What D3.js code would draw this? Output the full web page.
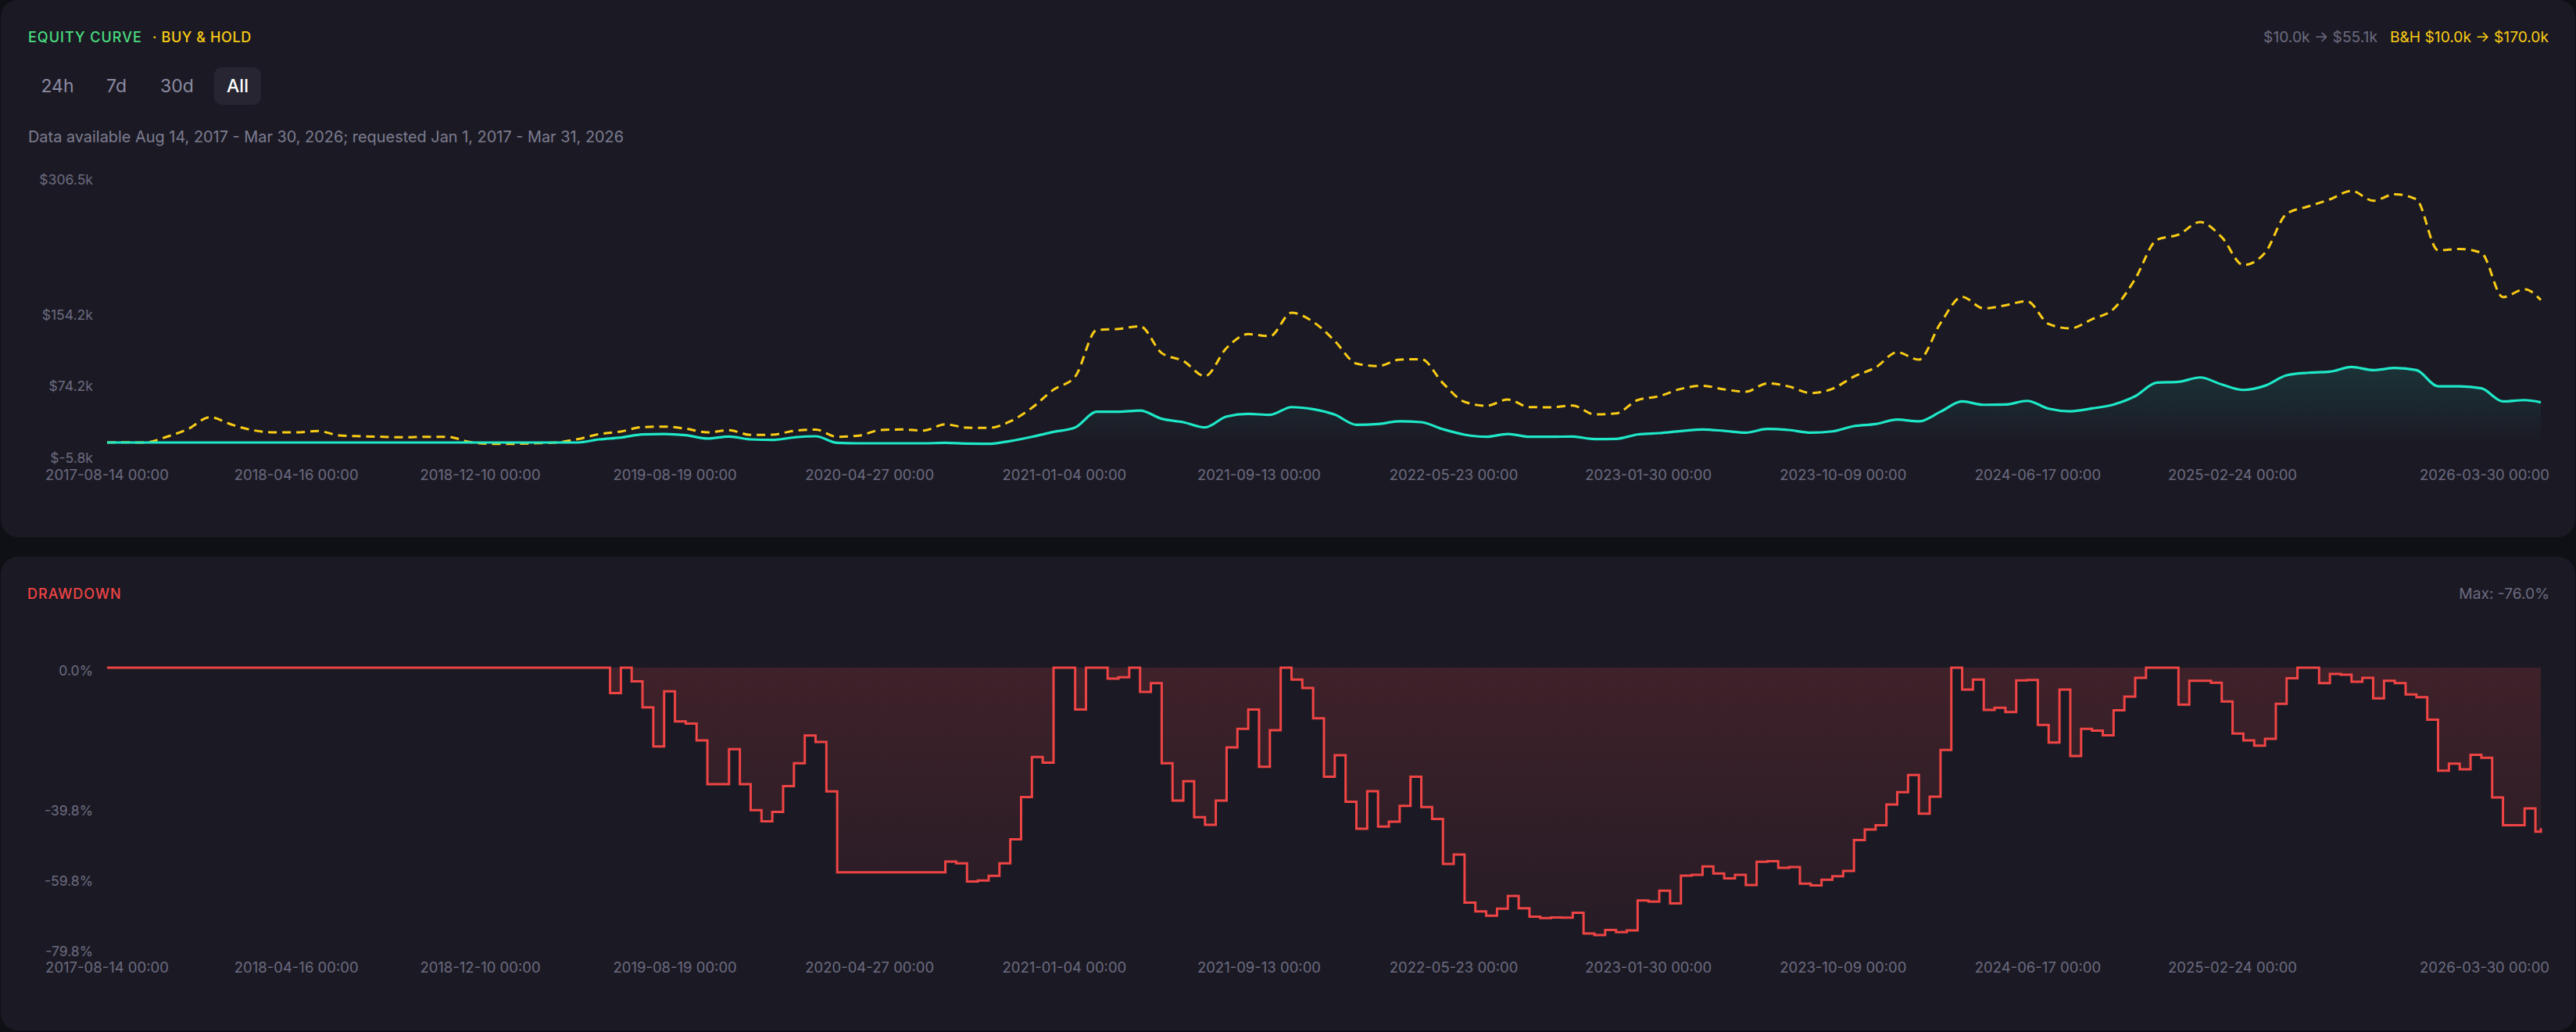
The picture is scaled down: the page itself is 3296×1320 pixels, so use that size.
<!DOCTYPE html>
<html><head><meta charset="utf-8">
<script src="https://cdn.jsdelivr.net/npm/d3@7"></script>
<style>
html,body{margin:0;padding:0;background:#0f0f16;}
svg{display:block;font-family:Inter,"Noto Sans",sans-serif;}
</style></head><body>
<svg id="c" width="3296" height="1320"></svg>
<script>
// ---------- data ----------
const xTickDates = ["2017-08-14","2018-04-16","2018-12-10","2019-08-19","2020-04-27","2021-01-04","2021-09-13","2022-05-23","2023-01-30","2023-10-09","2024-06-17","2025-02-24","2026-03-30"];
const equityTicks = [-5.8, 74.2, 154.2, 306.5];
const drawdownTicks = [0, -39.8, -59.8, -79.8];
const firstDate = "2017-08-14";
const gridStart = "2017-08-21";   // bars every 14 days after the first one
const lastDate = "2026-03-30";
const timeframes = ["24h","7d","30d","All"];

// drawdown %, one value per bar
const drawdown = [
 0,0,0,0,0,0,0,0,0,0,
 0,0,0,0,0,0,0,0,0,0,
 0,0,0,0,0,0,0,0,0,0,
 0,0,0,0,0,0,0,0,0,0,
 0,0,0,0,0,0,0,-7.2,0,-3.9,
 -11.3,-22.4,-6.7,-15.3,-15.9,-20.7,-33.1,-33.1,-23.2,-33.1,
 -40.5,-43.7,-41.0,-33.7,-27.2,-19.3,-21.1,-35.2,-58.2,-58.2,
 -58.2,-58.2,-58.2,-58.2,-58.2,-58.2,-58.2,-58.2,-55.1,-55.6,
 -60.8,-60.5,-59.2,-55.6,-48.8,-36.8,-25.4,-27.0,0,0,
 -11.9,0,0,-3.1,-2.7,0,-6.9,-4.4,-27.2,-37.8,
 -32.3,-42.5,-44.7,-37.8,-22.7,-17.4,-11.9,-28.2,-17.8,0,
 -3.4,-5.8,-14.4,-31.0,-24.9,-38.1,-45.8,-35.1,-45.2,-43.8,
 -39.3,-31.0,-39.6,-43.0,-55.8,-53.1,-66.8,-69.3,-70.5,-68.5,
 -64.9,-68.4,-70.8,-71.2,-71.0,-71.1,-69.7,-75.6,-76.0,-74.6,
 -75.2,-74.7,-66.2,-66.5,-63.4,-67.0,-59.1,-58.9,-56.5,-58.5,
 -59.9,-58.9,-61.8,-55.2,-55.0,-56.9,-56.7,-61.4,-61.9,-60.3,
 -59.3,-57.8,-49.0,-46.0,-44.8,-38.9,-35.4,-30.5,-41.5,-36.7,
 -23.4,0,-6.2,-3.4,-12.0,-11.4,-12.6,-3.6,-3.5,-16.3,
 -21.3,-6.2,-25.1,-17.4,-17.9,-19.2,-12.1,-8.2,-2.9,0,
 0,0,-10.5,-3.7,-3.7,-4.3,-9.6,-18.7,-20.7,-22.2,
 -20.2,-10.3,-3.0,0,0,-4.4,-1.8,-2.0,-4.0,-2.9,
 -8.7,-3.7,-4.4,-7.6,-8.4,-14.8,-29.3,-27.3,-28.9,-24.8,
 -25.6,-36.9,-44.8,-44.8,-40.0,-46.6,-45.6
];

// equity curve ($k), every second bar
const equity = [
 10.0,10.0,10.0,10.0,10.0,10.0,10.0,10.0,10.0,10.0,
 10.0,10.0,10.0,10.0,10.0,10.0,10.0,10.0,10.0,10.0,
 10.0,10.0,10.0,13.5,15.6,19.1,19.6,18.2,14.4,16.7,
 13.5,12.9,15.7,17.0,9.6,9.1,9.1,9.1,9.1,9.6,
 8.7,8.5,11.7,16.4,21.9,26.9,44.5,44.5,45.9,36.6,
 32.8,26.9,39.2,42.1,41.0,49.7,47.4,41.3,29.9,30.7,
 33.8,32.8,24.9,18.8,16.4,19.6,16.4,16.4,16.7,13.8,
 14.1,19.0,20.5,22.8,24.6,23.1,21.1,25.2,24.0,21.1,
 22.5,28.4,30.7,35.7,33.7,44.5,56.1,52.3,52.6,56.7,
 47.9,45.0,48.2,52.6,62.0,77.2,78.1,83.0,75.1,69.0,
 73.7,85.4,88.3,89.5,94.7,91.2,93.6,91.2,73.1,73.1,
 70.8,56.1,57.6,55.1
];

// buy & hold ($k), every second bar
const buyHold = [
 10.0,10.2,10.0,16.4,25.2,38.4,30.2,23.7,21.4,21.4,
 22.9,17.9,17.0,16.4,15.8,16.4,16.4,10.6,8.5,8.5,
 9.1,10.0,13.8,19.4,22.3,27.3,27.8,25.5,21.4,23.7,
 18.5,18.8,23.0,24.5,16.4,17.7,24.0,24.6,23.4,30.4,
 26.6,26.4,33.7,48.9,69.3,84.0,136.3,137.5,140.4,110.3,
 101.5,84.5,116.1,131.6,129.3,155.6,145.4,124.0,98.6,95.7,
 103.0,103.5,76.6,55.6,51.2,58.2,49.7,49.5,51.5,41.6,
 42.7,57.6,62.0,70.2,73.7,69.6,67.0,76.4,72.8,65.5,
 70.2,84.0,94.2,111.2,103.0,143.9,173.5,160.4,164.0,168.5,
 143.0,138.0,148.3,159.9,193.6,237.4,243.3,257.3,240.4,209.1,
 222.8,266.7,274.9,282.8,292.4,281.3,288.6,282.8,225.7,227.2,
 222.8,173.1,181.9,170.0
];

// ---------- drawing ----------
const W = 3296, H = 1320;
const C = {
  panel:"#1b1a24", btn:"#262531", muted:"#6c6b80", sub:"#7d7c90", btnTxt:"#8c8ba1",
  green:"#4ade80", yellow:"#facc15", cyan:"#1ee8c8", red:"#ef4444"
};
const parse = d3.utcParse("%Y-%m-%d");
const ddDates = drawdown.map((_, i) =>
  i === 0 ? parse(firstDate)
  : i === drawdown.length - 1 ? parse(lastDate)
  : d3.utcDay.offset(parse(gridStart), 14 * (i - 1)));
const lineDates = ddDates.filter((_, i) => i % 2 === 0);

const svg = d3.select("#c");
const defs = svg.append("defs");

// panels
svg.append("rect").attr("x",1).attr("y",0).attr("width",W-2).attr("height",687).attr("rx",22).attr("fill",C.panel);
svg.append("rect").attr("x",1).attr("y",712).attr("width",W-2).attr("height",606).attr("rx",22).attr("fill",C.panel);

const x = d3.scaleUtc().domain([parse(firstDate), parse(lastDate)]).range([137, 3251]);
const yE = d3.scaleLinear().domain([equityTicks[0], equityTicks[equityTicks.length-1]]).range([584, 228]);
const yD = d3.scaleLinear().domain([drawdownTicks[drawdownTicks.length-1], 0]).range([1213, 854]);

// header texts
svg.append("text").attr("x",36).attr("y",47).attr("dominant-baseline","central")
  .attr("font-size",18).attr("font-weight",500).attr("letter-spacing",1.0).attr("fill",C.green).text("EQUITY CURVE");
svg.append("text").attr("x",195).attr("y",47).attr("dominant-baseline","central")
  .attr("font-size",18).attr("font-weight",500).attr("letter-spacing",0.6).attr("fill",C.yellow).text("· BUY & HOLD");

const hdr = svg.append("text").attr("x",3261).attr("y",47).attr("dominant-baseline","central")
  .attr("text-anchor","end").attr("font-size",19.2);
hdr.append("tspan").attr("fill",C.muted).text("$10.0k → $55.1k");
hdr.append("tspan").attr("dx",16).attr("fill",C.yellow).text("B&H $10.0k → $170.0k");

// timeframe buttons
const btnX = [73.5, 149, 226.5, 304];
svg.append("rect").attr("x",274).attr("y",86).attr("width",60).attr("height",48).attr("rx",10).attr("fill",C.btn);
timeframes.forEach((t, i) => {
  svg.append("text").attr("x",btnX[i]).attr("y",110).attr("dominant-baseline","central")
    .attr("text-anchor","middle").attr("font-size",23).attr("font-weight", i===3?500:400)
    .attr("fill", i===3 ? "#ffffff" : C.btnTxt).text(t);
});

svg.append("text").attr("x",36).attr("y",175).attr("dominant-baseline","central")
  .attr("font-size",19.9).attr("fill",C.sub)
  .text("Data available Aug 14, 2017 - Mar 30, 2026; requested Jan 1, 2017 - Mar 31, 2026");

// gradients
const gE = defs.append("linearGradient").attr("id","gE").attr("x1",0).attr("y1",0).attr("x2",0).attr("y2",1);
gE.append("stop").attr("offset","0%").attr("stop-color",C.cyan).attr("stop-opacity",0.12);
gE.append("stop").attr("offset","85%").attr("stop-color",C.cyan).attr("stop-opacity",0.0);
const gD = defs.append("linearGradient").attr("id","gD").attr("x1",0).attr("y1",0).attr("x2",0).attr("y2",1);
gD.append("stop").attr("offset","0%").attr("stop-color",C.red).attr("stop-opacity",0.17);
gD.append("stop").attr("offset","100%").attr("stop-color",C.red).attr("stop-opacity",0.05);

// equity chart
const eqPts = lineDates.map((d, i) => ({d, v: equity[i]}));
const bhPts = lineDates.map((d, i) => ({d, v: buyHold[i]}));
svg.append("path").datum(eqPts)
  .attr("d", d3.area().curve(d3.curveMonotoneX).x(p => x(p.d)).y0(yE(equityTicks[0])).y1(p => yE(p.v)))
  .attr("fill","url(#gE)");
svg.append("path").datum(bhPts)
  .attr("d", d3.line().curve(d3.curveMonotoneX).x(p => x(p.d)).y(p => yE(p.v)))
  .attr("fill","none").attr("stroke",C.yellow).attr("stroke-width",3).attr("stroke-dasharray","11 7");
svg.append("path").datum(eqPts)
  .attr("d", d3.line().curve(d3.curveMonotoneX).x(p => x(p.d)).y(p => yE(p.v)))
  .attr("fill","none").attr("stroke",C.cyan).attr("stroke-width",3.2);

// axes text helpers
function xLabels(yPos) {
  const g = svg.append("g").attr("font-size",18.5).attr("fill",C.muted);
  xTickDates.forEach((d, i) => {
    const last = i === xTickDates.length - 1;
    g.append("text").attr("x", last ? x(parse(d)) + 11 : x(parse(d))).attr("y", yPos)
      .attr("dominant-baseline","central").attr("text-anchor", last ? "end" : "middle")
      .text(d + " 00:00");
  });
}
const eqAxis = svg.append("g").attr("font-size",17.6).attr("fill",C.muted);
equityTicks.forEach(v => {
  eqAxis.append("text").attr("x",119).attr("y",yE(v)+1).attr("dominant-baseline","central")
    .attr("text-anchor","end").text("$" + v.toFixed(1) + "k");
});
xLabels(607);

// drawdown chart
svg.append("text").attr("x",35).attr("y",759).attr("dominant-baseline","central")
  .attr("font-size",18).attr("font-weight",500).attr("letter-spacing",1.0).attr("fill",C.red).text("DRAWDOWN");
svg.append("text").attr("x",3262).attr("y",759).attr("dominant-baseline","central")
  .attr("text-anchor","end").attr("font-size",19.2).attr("fill",C.muted)
  .text("Max: " + d3.min(drawdown).toFixed(1) + "%");

const ddPts = ddDates.map((d, i) => ({d, v: drawdown[i]}));
svg.append("path").datum(ddPts)
  .attr("d", d3.area().curve(d3.curveStepAfter).x(p => x(p.d)).y0(yD(0)).y1(p => yD(p.v)))
  .attr("fill","url(#gD)");
svg.append("path").datum(ddPts)
  .attr("d", d3.line().curve(d3.curveStepAfter).x(p => x(p.d)).y(p => yD(p.v)))
  .attr("fill","none").attr("stroke",C.red).attr("stroke-width",3);

const ddAxis = svg.append("g").attr("font-size",17.6).attr("fill",C.muted);
drawdownTicks.forEach(v => {
  ddAxis.append("text").attr("x",119).attr("y",yD(v)+3).attr("dominant-baseline","central")
    .attr("text-anchor","end").text(v.toFixed(1) + "%");
});
xLabels(1237);
</script>
</body></html>
